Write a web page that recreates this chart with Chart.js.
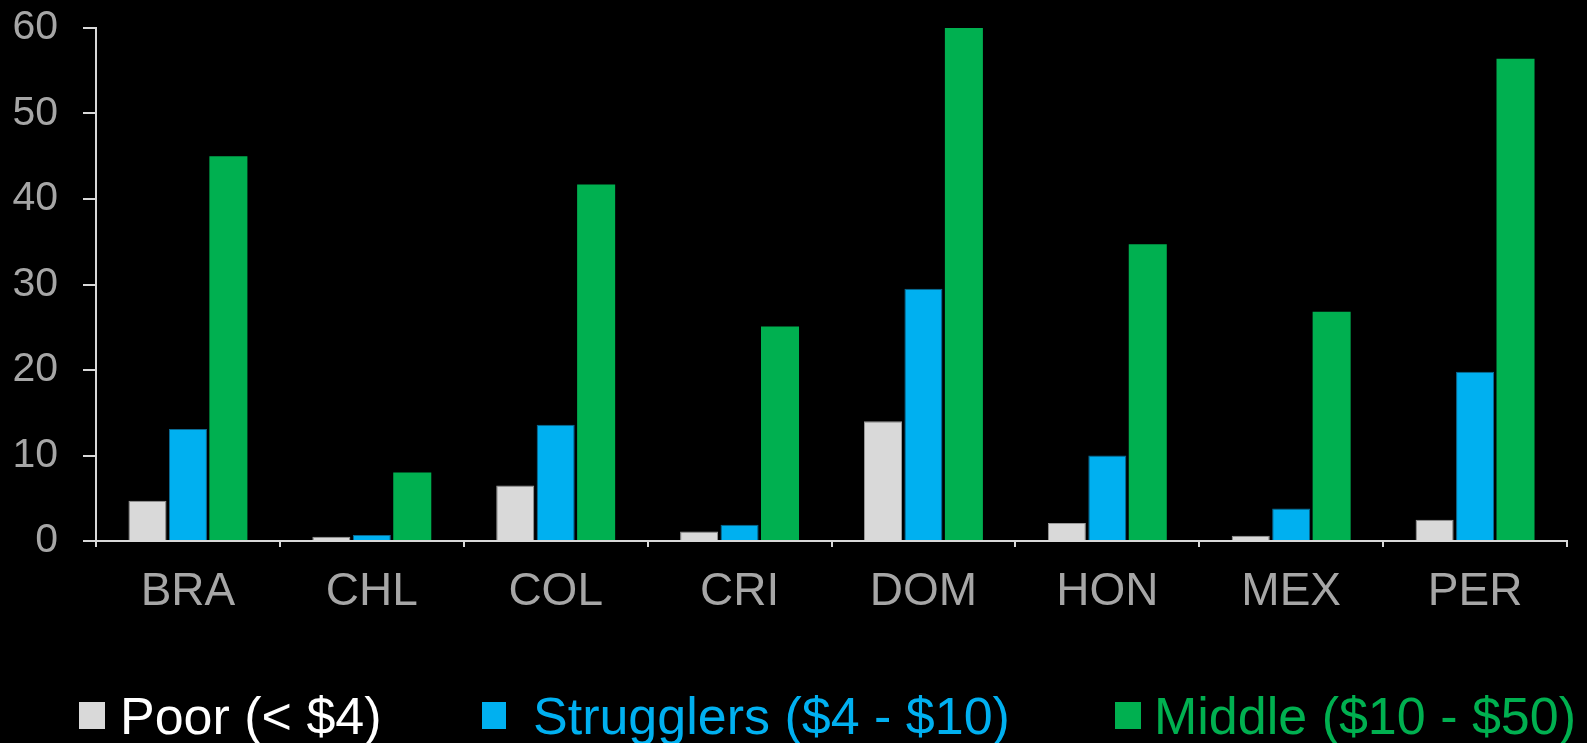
<!DOCTYPE html>
<html>
<head>
<meta charset="utf-8">
<script src="https://cdn.jsdelivr.net/npm/chart.js@4"></script>
<style>
  html, body { margin: 0; padding: 0; background: #000; }
  #wrap { width: 1587px; height: 743px; position: relative; }
</style>
</head>
<body>
<div id="wrap"><canvas id="incomeChart"></canvas></div>
<script>
const countries = ["BRA", "CHL", "COL", "CRI", "DOM", "HON", "MEX", "PER"];
const poor = [4.7, 0.5, 6.5, 1.1, 14.0, 2.1, 0.6, 2.5];
const strugglers = [13.1, 0.7, 13.6, 1.9, 29.5, 10.0, 3.8, 19.8];
const middle = [45.0, 8.0, 41.7, 25.1, 60.0, 34.7, 26.8, 56.4];
const seriesNames = ["Poor (< $4)", "Strugglers ($4 - $10)", "Middle ($10 - $50)"];
const yTicks = [0, 10, 20, 30, 40, 50, 60];

const fillColors = ["#d9d9d9", "#00b0f0", "#00b050"];
const edgeColors = ["#9a9a9a", "#0b6a93", "#00b050"];
const legendText = ["#ffffff", "#00b0f0", "#00b050"];
const axisColor = "#d9d9d9";
const tickText = "#a6a6a6";
const fontFamily = "'Liberation Sans', Arial, sans-serif";

// legend drawn under the plot, positions taken from the reference layout
const bottomLegend = {
    id: "bottomLegend",
    afterDraw(chart, args, opts) {
        const ctx = chart.ctx;
        ctx.save();
        ctx.font = "52px " + fontFamily;
        ctx.textBaseline = "alphabetic";
        ctx.textAlign = "left";
        chart.data.datasets.forEach((ds, i) => {
            const x = opts.boxX[i];
            ctx.fillStyle = ds.backgroundColor;
            ctx.fillRect(x, opts.boxTop, opts.boxW[i], opts.boxH);
            ctx.fillStyle = legendText[i];
            ctx.fillText(ds.label, opts.textX[i], opts.baseline);
        });
        ctx.restore();
    }
};

const series = [poor, strugglers, middle];

new Chart("incomeChart", {
    type: "bar",
    data: {
        labels: countries,
        datasets: series.map((values, i) => ({
            label: seriesNames[i],
            data: values,
            backgroundColor: fillColors[i],
            borderColor: edgeColors[i],
            borderWidth: i === 2 ? 0 : 1,
            categoryPercentage: 0.66,
            barPercentage: 0.94
        }))
    },
    options: {
        responsive: true,
        maintainAspectRatio: false,
        animation: false,
        layout: { padding: { top: 28, right: 20, bottom: 0, left: 0 } },
        plugins: {
            legend: { display: false },
            tooltip: { enabled: false },
            bottomLegend: {
                boxX: [79, 482, 1115],
                boxW: [26, 24, 26],
                textX: [120, 533, 1154],
                boxTop: 702,
                boxH: 27,
                baseline: 734
            }
        },
        scales: {
            x: {
                grid: {
                    display: true,
                    drawOnChartArea: false,
                    tickLength: 6,
                    tickColor: axisColor,
                    lineWidth: 2
                },
                border: { color: axisColor, width: 2 },
                ticks: {
                    color: tickText,
                    font: { size: 46, family: fontFamily },
                    padding: 18,
                    maxRotation: 0
                },
                afterFit: (scale) => { scale.height = 202; }
            },
            y: {
                min: yTicks[0],
                max: yTicks[yTicks.length - 1],
                afterBuildTicks: (scale) => { scale.ticks = yTicks.map(v => ({ value: v })); },
                grid: {
                    display: true,
                    drawOnChartArea: false,
                    tickLength: 13,
                    tickColor: axisColor,
                    lineWidth: 2
                },
                border: { color: axisColor, width: 2 },
                ticks: {
                    color: tickText,
                    font: { size: 41, family: fontFamily },
                    padding: 25
                },
                afterFit: (scale) => {
                    scale.width = 96;
                    scale.paddingTop = 0;
                    scale.paddingBottom = 0;
                }
            }
        }
    },
    plugins: [bottomLegend]
});
</script>
</body>
</html>
